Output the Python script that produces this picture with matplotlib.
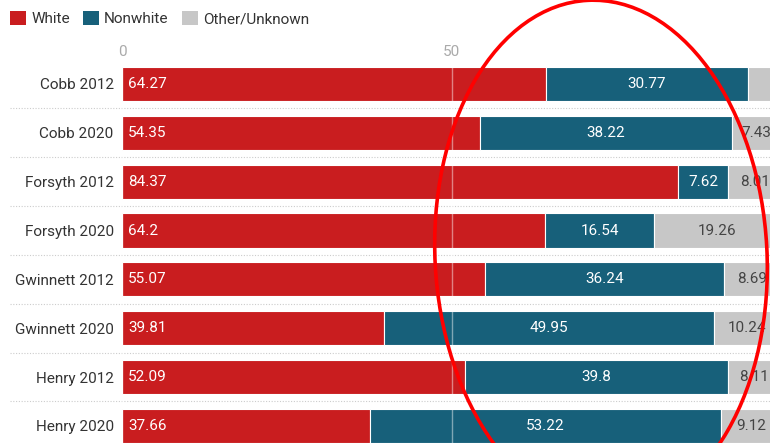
import matplotlib
import matplotlib.pyplot as plt
from matplotlib.patches import Ellipse, Patch
import numpy as np

matplotlib.use('agg')

counties = ["Cobb 2012", "Cobb 2020", "Forsyth 2012", "Forsyth 2020",
            "Gwinnett 2012", "Gwinnett 2020", "Henry 2012", "Henry 2020"]
white = [64.27, 54.35, 84.37, 64.2, 55.07, 39.81, 52.09, 37.66]
nonwhite = [30.77, 38.22, 7.62, 16.54, 36.24, 49.95, 39.8, 53.22]
other = [4.96, 7.43, 8.01, 19.26, 8.69, 10.24, 8.11, 9.12]
series_names = ["White", "Nonwhite", "Other/Unknown"]

RED = "#c91d1f"
BLUE = "#17607a"
GREY = "#c7c7c7"

plt.rcParams['font.family'] = ['Roboto', 'DejaVu Sans']

W, H = 770, 443
fig = plt.figure(figsize=(W / 100, H / 100), dpi=100)
ax = fig.add_axes([122 / W, 0, 1 - 122 / W, (443 - 62) / H])

y = np.arange(len(counties))
h = 0.7
left = np.zeros(len(counties))
for vals, col in zip([white, nonwhite, other], [RED, BLUE, GREY]):
    ax.barh(y, vals, left=left, height=h, color=col, edgecolor="white",
            linewidth=0.8, zorder=2)
    left = left + np.array(vals)

# value labels
fs = 11
for i in range(len(counties)):
    ax.text(0.9, i, f"{white[i]:g}", color="white", va="center", ha="left",
            fontsize=fs, zorder=4)
    ax.text(white[i] + nonwhite[i] / 2, i, f"{nonwhite[i]:g}", color="white",
            va="center", ha="center", fontsize=fs, zorder=4)
    if other[i] >= 5:
        ax.text(white[i] + nonwhite[i] + other[i] / 2, i, f"{other[i]:g}",
                color="#444444", va="center", ha="center", fontsize=fs,
                zorder=4, clip_on=True)

# gridline at 50 on top of bars
ax.axvline(50, color="white", alpha=0.45, lw=1, zorder=3)
ax.axvline(0, color="white", alpha=0.45, lw=1, zorder=3)

# dotted row separators
for k in range(len(counties) - 1):
    ax.plot([-0.173, 1], [k + 0.5, k + 0.5], color="#cccccc", lw=0.8,
            ls=(0, (1, 1.5)), transform=ax.get_yaxis_transform(),
            clip_on=False, zorder=1)

ax.set_xlim(0, (W - 122) / 6.59)
ax.set_ylim(7.35, -0.45)
ax.set_yticks(y)
ax.set_yticklabels(counties, fontsize=fs, color="#333333")
ax.set_xticks([0, 50])
ax.xaxis.tick_top()
ax.tick_params(axis="x", colors="#aaaaaa", labelsize=fs, length=0, pad=2)
ax.tick_params(axis="y", length=0, pad=6)
for s in ax.spines.values():
    s.set_visible(False)

handles = [Patch(facecolor=c, edgecolor="none") for c in [RED, BLUE, GREY]]
fig.legend(handles, series_names, loc="upper left",
           bbox_to_anchor=(-4 / W, 1 + 3 / H), ncol=3, frameon=False,
           fontsize=fs, handlelength=1.05, handleheight=1.05,
           handletextpad=0.35, columnspacing=0.85, labelcolor="#333333")

# red ellipse annotation (display pixels, origin bottom-left)
ell = Ellipse((601, H - 256), 332, 512, angle=3, fill=False,
              edgecolor="#ff0000", lw=2.6, transform=None, zorder=10)
fig.add_artist(ell)

fig.savefig("out.png", dpi=100)
